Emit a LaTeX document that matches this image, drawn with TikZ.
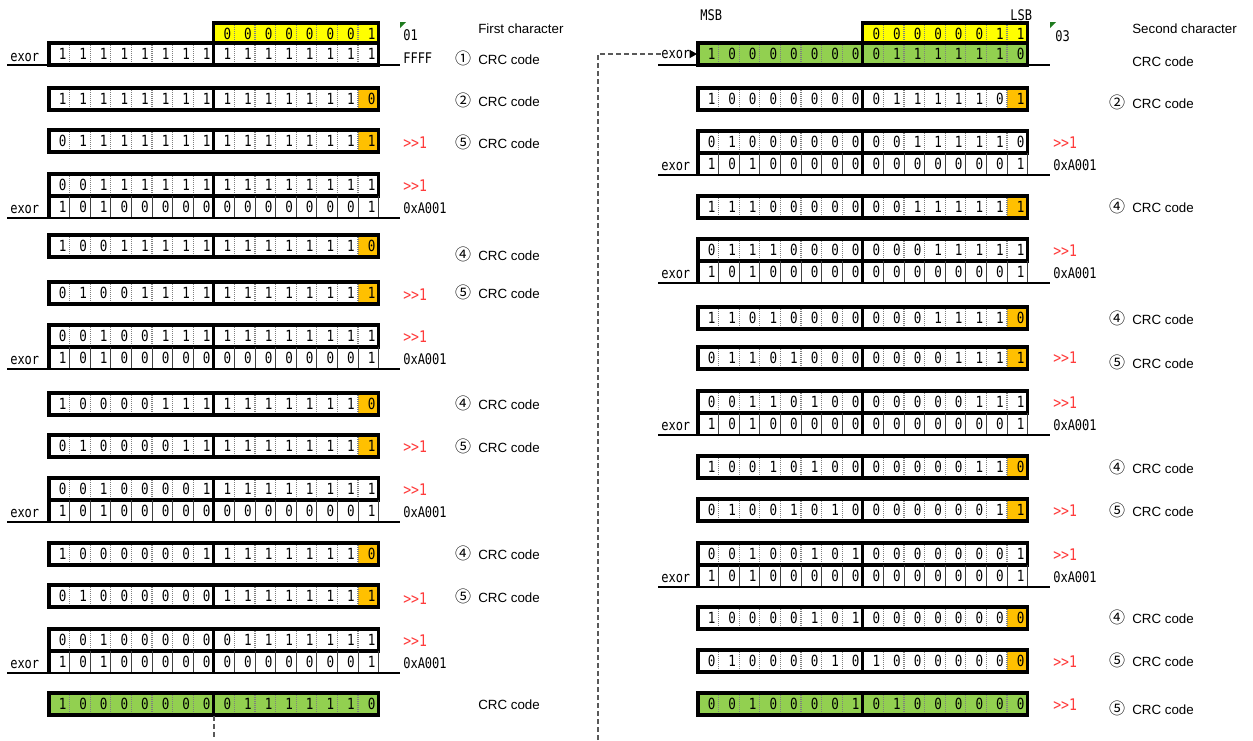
\documentclass[tikz,border=0pt]{standalone}
\usepackage{fontspec}
\setmainfont{Liberation Sans}
\newfontfamily\gfont[FakeStretch=0.82]{DejaVu Sans Mono}
\newfontfamily\cjkfont{Noto Sans CJK JP}
\usetikzlibrary{arrows.meta}
\definecolor{cyel}{HTML}{FFFF00}
\definecolor{corg}{HTML}{FFC000}
\definecolor{cgrn}{HTML}{92D050}
\definecolor{cred}{HTML}{FF3B3B}
\definecolor{cdot}{HTML}{7F7F7F}
\definecolor{cmark}{HTML}{1E7B1E}
\newcommand{\cw}{20.6}
\newcommand{\ch}{22}
% thick row: id, x0, ytop, n, fill, lastfill, bits
\newcommand{\trow}[7]{%
  \fill[#5] (#2,#3) rectangle ++({#4*\cw},\ch);
  \fill[#6] ({#2+(#4-1)*\cw},#3) rectangle ++(\cw,\ch);
  \pgfmathtruncatemacro\nm{#4-1}
  \foreach \k in {1,...,\nm}{\draw[divd] ({#2+\k*\cw},#3) -- ++(0,\ch);}
  \foreach \bv [count=\i] in {#7}{\node[bit] (#1-\i) at ({#2+\i*\cw-3},{#3+\ch/2}) {\bv};}
  \draw[thickb] (#2,#3) rectangle ++({#4*\cw},\ch);
  \ifnum#4=16 \draw[thickb] ({#2+8*\cw},#3) -- ++(0,\ch);\fi
}
% exor row: id, x0, ytop, bits
\newcommand{\erow}[4]{%
  \foreach \k in {1,...,16}{\draw[divs] ({#2+\k*\cw},#3) -- ++(0,\ch);}
  \foreach \bv [count=\i] in {#4}{\node[bit] (#1-\i) at ({#2+\i*\cw-3},{#3+\ch/2}) {\bv};}
  \draw[thickb] (#2,#3) -- ++(0,\ch);
  \draw[thickb] ({#2+8*\cw},#3) -- ++(0,\ch);
}
% pair: id, x0, ytop, topbits, line x a, line x b, exor label x, right label x
\newcommand{\pairrow}[8]{%
  \trow{#1t}{#2}{#3}{16}{white}{white}{#4}
  \erow{#1e}{#2}{#3+\ch}{1,0,1,0,0,0,0,0,0,0,0,0,0,0,0,1}
  \coordinate (#1a) at (#5,{#3+2*\ch});
  \coordinate (#1b) at (#6,{#3+2*\ch});
  \draw[exline] (#1a) -- (#1b);
  \node[mono] (#1x) at (#7,{#3+1.5*\ch+2}) {exor};
  \node[shr] (#1s) at (#8,{#3+0.5*\ch+1}) {>{}>1};
  \node[mono] (#1p) at (#8,{#3+1.5*\ch+1}) {0xA001};
}
% crc label: id, text x, y, symbol
\newcommand{\crc}[4]{%
  \node[cnum] (#1c) at ({#2-15},{#3-1.5}) {#4};
  \node[lab] (#1t) at (#2,#3) {CRC code};
}
\begin{document}
\begin{tikzpicture}[x=0.75pt,y=-0.75pt,
  bit/.style={font=\gfont\fontsize{11.5}{13}\selectfont, anchor=east, inner sep=0pt},
  mono/.style={font=\gfont\fontsize{11}{13}\selectfont, anchor=west, inner sep=0pt},
  shr/.style={font=\gfont\fontsize{12}{13}\selectfont, anchor=west, inner sep=0pt, text=cred},
  lab/.style={font=\fontsize{10}{12}\selectfont, anchor=west, inner sep=0pt},
  cnum/.style={font=\cjkfont\fontsize{12}{13}\selectfont, inner sep=0pt},
  divd/.style={cdot, line width=0.9pt, dash pattern=on 0.75pt off 0.75pt},
  divs/.style={black!75, line width=0.75pt},
  thickb/.style={black, line width=2.3pt},
  exline/.style={black, line width=1.5pt},
  dashline/.style={black!65, line width=1.1pt, dash pattern=on 3.5pt off 2.5pt}]
\useasboundingbox (0,0) rectangle (1253,740);
\fill[white] (0,0) rectangle (1253,740);

% ================= LEFT COLUMN =================
\trow{ly}{213.8}{23}{8}{cyel}{cyel}{0,0,0,0,0,0,0,1}
\trow{lf}{49}{43}{16}{white}{white}{1,1,1,1,1,1,1,1,1,1,1,1,1,1,1,1}
\coordinate (lfa) at (7,65); \coordinate (lfb) at (400,65);
\draw[exline] (lfa) -- (lfb);
\node[mono] (lfx) at (10,57) {exor};
\fill[cmark] (400,22) -- (406,22) -- (400,28) -- cycle;
\node[mono] (l01) at (403,35) {01};
\node[lab] (lfc) at (478,29) {First character};
\node[mono] (lff) at (403,58) {FFFF};
\crc{l1}{478}{60}{①}

\trow{l2}{49}{88}{16}{white}{corg}{1,1,1,1,1,1,1,1,1,1,1,1,1,1,1,0}
\crc{l2}{478}{102}{②}

\trow{l3}{49}{130}{16}{white}{corg}{0,1,1,1,1,1,1,1,1,1,1,1,1,1,1,1}
\node[shr] (l3s) at (403,143) {>{}>1};
\crc{l3}{478}{144}{⑤}

\pairrow{l4}{49}{174}{0,0,1,1,1,1,1,1,1,1,1,1,1,1,1,1}{7}{400}{10}{403}

\trow{l5}{49}{235}{16}{white}{corg}{1,0,0,1,1,1,1,1,1,1,1,1,1,1,1,0}
\crc{l5}{478}{256}{④}

\trow{l6}{49}{282}{16}{white}{corg}{0,1,0,0,1,1,1,1,1,1,1,1,1,1,1,1}
\node[shr] (l6s) at (403,295) {>{}>1};
\crc{l6}{478}{294}{⑤}

\pairrow{l7}{49}{325}{0,0,1,0,0,1,1,1,1,1,1,1,1,1,1,1}{7}{400}{10}{403}

\trow{l8}{49}{393}{16}{white}{corg}{1,0,0,0,0,1,1,1,1,1,1,1,1,1,1,0}
\crc{l8}{478}{405}{④}

\trow{l9}{49}{435}{16}{white}{corg}{0,1,0,0,0,0,1,1,1,1,1,1,1,1,1,1}
\node[shr] (l9s) at (403,447) {>{}>1};
\crc{l9}{478}{448}{⑤}

\pairrow{l10}{49}{478}{0,0,1,0,0,0,0,1,1,1,1,1,1,1,1,1}{7}{400}{10}{403}

\trow{l11}{49}{543}{16}{white}{corg}{1,0,0,0,0,0,0,1,1,1,1,1,1,1,1,0}
\crc{l11}{478}{555}{④}

\trow{l12}{49}{585}{16}{white}{corg}{0,1,0,0,0,0,0,0,1,1,1,1,1,1,1,1}
\node[shr] (l12s) at (403,599) {>{}>1};
\crc{l12}{478}{598}{⑤}

\pairrow{l13}{49}{629}{0,0,1,0,0,0,0,0,0,1,1,1,1,1,1,1}{7}{400}{10}{403}

\trow{lg}{49}{693}{16}{cgrn}{cgrn}{1,0,0,0,0,0,0,0,0,1,1,1,1,1,1,0}
\node[lab] (lgt) at (478,705) {CRC code};

\coordinate (dl1) at (213.8,716);
\coordinate (dl2) at (213.8,740);
\draw[dashline] (dl1) -- (dl2);

% ================= RIGHT COLUMN =================
\node[mono] (msb) at (700,15) {MSB};
\node[mono] (lsb) at (1010,15) {LSB};
\trow{ry}{862.8}{23}{8}{cyel}{cyel}{0,0,0,0,0,0,1,1}
\trow{rg}{698}{43}{16}{cgrn}{cgrn}{1,0,0,0,0,0,0,0,0,1,1,1,1,1,1,0}
\coordinate (rga) at (658,65); \coordinate (rgb) at (1050,65);
\draw[exline] (rga) -- (rgb);
\node[mono] (rgx) at (661,54) {exor};
\coordinate (rgw) at (697,54);
\draw[-{Triangle[length=5.5pt,width=6pt]}, line width=0.8pt] (rgx.east) -- (rgw);
\coordinate (dr0) at (598,740);
\draw[dashline] (dr0) |- (rgx.west);
\fill[cmark] (1050,22) -- (1056,22) -- (1050,28) -- cycle;
\node[mono] (r03) at (1055,36) {03};
\node[lab] (rsc) at (1132,29) {Second character};
\node[lab] (rgt) at (1132,62) {CRC code};

\trow{r2}{698}{88}{16}{white}{corg}{1,0,0,0,0,0,0,0,0,1,1,1,1,1,0,1}
\crc{r2}{1132}{104}{②}

\pairrow{r3}{698}{131}{0,1,0,0,0,0,0,0,0,0,1,1,1,1,1,0}{658}{1050}{661}{1053}

\trow{r4}{698}{196}{16}{white}{corg}{1,1,1,0,0,0,0,0,0,0,1,1,1,1,1,1}
\crc{r4}{1132}{208}{④}

\pairrow{r5}{698}{239}{0,1,1,1,0,0,0,0,0,0,0,1,1,1,1,1}{658}{1050}{661}{1053}

\trow{r6}{698}{307}{16}{white}{corg}{1,1,0,1,0,0,0,0,0,0,0,1,1,1,1,0}
\crc{r6}{1132}{320}{④}

\trow{r7}{698}{347}{16}{white}{corg}{0,1,1,0,1,0,0,0,0,0,0,0,1,1,1,1}
\node[shr] (r7s) at (1053,358) {>{}>1};
\crc{r7}{1132}{364}{⑤}

\pairrow{r8}{698}{391}{0,0,1,1,0,1,0,0,0,0,0,0,0,1,1,1}{658}{1050}{661}{1053}

\trow{r9}{698}{456}{16}{white}{corg}{1,0,0,1,0,1,0,0,0,0,0,0,0,1,1,0}
\crc{r9}{1132}{469}{④}

\trow{r10}{698}{499}{16}{white}{corg}{0,1,0,0,1,0,1,0,0,0,0,0,0,0,1,1}
\node[shr] (r10s) at (1053,511) {>{}>1};
\crc{r10}{1132}{512}{⑤}

\pairrow{r11}{698}{543}{0,0,1,0,0,1,0,1,0,0,0,0,0,0,0,1}{658}{1050}{661}{1053}

\trow{r12}{698}{607}{16}{white}{corg}{1,0,0,0,0,1,0,1,0,0,0,0,0,0,0,0}
\crc{r12}{1132}{619}{④}

\trow{r13}{698}{650}{16}{white}{corg}{0,1,0,0,0,0,1,0,1,0,0,0,0,0,0,0}
\node[shr] (r13s) at (1053,662) {>{}>1};
\crc{r13}{1132}{662}{⑤}

\trow{r14}{698}{693}{16}{cgrn}{cgrn}{0,0,1,0,0,0,0,1,0,1,0,0,0,0,0,0}
\node[shr] (r14s) at (1053,705) {>{}>1};
\crc{r14}{1132}{710}{⑤}
\end{tikzpicture}
\end{document}
